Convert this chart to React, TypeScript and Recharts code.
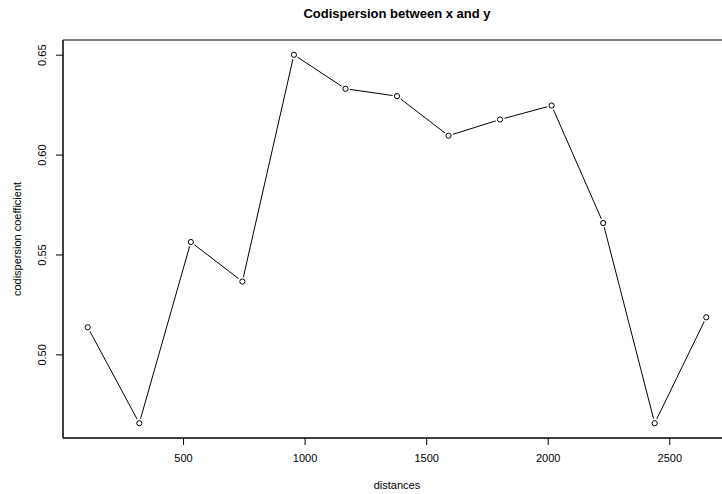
import React from "react"
import { LineChart, Line, XAxis, YAxis, ReferenceArea } from "recharts"

// lag distances and codispersion values
const distances = [106, 318, 530, 742, 954, 1166, 1378, 1590, 1802, 2014, 2226, 2438, 2650]
const coefficients = [
  0.5138, 0.4658, 0.5565, 0.5367, 0.6502, 0.6332, 0.6295, 0.6097, 0.6178, 0.6248, 0.566, 0.4658,
  0.5188,
]
const xTicks = [500, 1000, 1500, 2000, 2500]
const yTicks = [0.5, 0.55, 0.6, 0.65]
const xDomain = [4.2, 2751.8]
const yDomain = [0.4584, 0.6576]

const font = '"Liberation Sans", Arial, Helvetica, sans-serif'

const data = distances.map((d, i) => ({ d, v: coefficients[i] }))

function XTick(props: any) {
  const { x, payload } = props
  return (
    <text x={x} y={462} textAnchor="middle" fontSize={11} fontFamily={font} fill="#000">
      {payload.value}
    </text>
  )
}

function YTick(props: any) {
  const { y, payload } = props
  return (
    <text
      x={46.5}
      y={y}
      transform={`rotate(-90, 46.5, ${y})`}
      textAnchor="middle"
      fontSize={11}
      fontFamily={font}
      fill="#000"
    >
      {payload.value.toFixed(2)}
    </text>
  )
}

function OpenDot(props: any) {
  const { cx, cy } = props
  if (cx == null || cy == null) return null
  return (
    <g>
      <circle cx={cx} cy={cy} r={4.6} fill="#fff" stroke="none" />
      <circle cx={cx} cy={cy} r={2.6} fill="#fff" stroke="#000" strokeWidth={1} />
    </g>
  )
}

export default function App() {
  return (
    <div
      style={{
        position: "fixed",
        left: 0,
        top: 0,
        width: 722,
        height: 494,
        overflow: "hidden",
        background: "#fff",
      }}
    >
      <LineChart width={740} height={494} data={data} margin={{ top: 40, right: 9, bottom: 0, left: 0 }}>
        <XAxis
          dataKey="d"
          type="number"
          domain={xDomain}
          ticks={xTicks}
          height={56}
          tickSize={7}
          stroke="#000"
          tick={<XTick />}
          allowDataOverflow
        />
        <YAxis
          type="number"
          domain={yDomain}
          ticks={yTicks}
          width={63}
          tickSize={7}
          stroke="#000"
          tick={<YTick />}
          allowDataOverflow
        />
        <ReferenceArea
          x1={xDomain[0]}
          x2={xDomain[1]}
          y1={yDomain[0]}
          y2={yDomain[1]}
          fill="none"
          stroke="#000"
          strokeWidth={1}
        />
        <Line
          type="linear"
          dataKey="v"
          stroke="#000"
          strokeWidth={1}
          dot={<OpenDot />}
          activeDot={false}
          isAnimationActive={false}
        />
      </LineChart>
      <svg
        width={722}
        height={494}
        style={{ position: "absolute", left: 0, top: 0, pointerEvents: "none" }}
      >
        <text x={397} y={17.5} textAnchor="middle" fontSize={13} fontWeight="bold" fontFamily={font} fill="#000">
          Codispersion between x and y
        </text>
        <text x={397} y={489} textAnchor="middle" fontSize={11} fontFamily={font} fill="#000">
          distances
        </text>
        <text
          x={21}
          y={239}
          transform="rotate(-90, 21, 239)"
          textAnchor="middle"
          fontSize={11}
          fontFamily={font}
          fill="#000"
        >
          codispersion coefficient
        </text>
      </svg>
    </div>
  )
}
